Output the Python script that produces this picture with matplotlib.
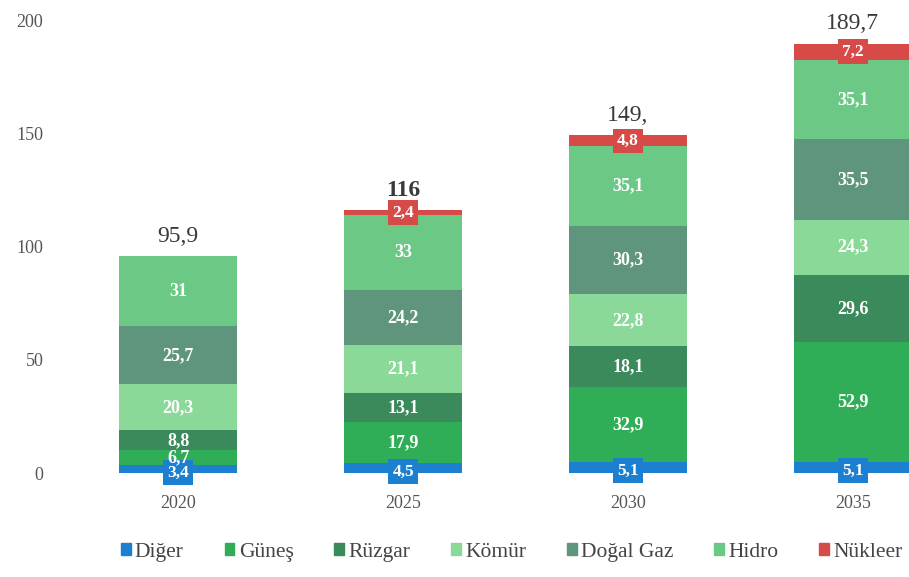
import numpy as np
import matplotlib
matplotlib.use("Agg")
import matplotlib.pyplot as plt
from matplotlib.patches import Patch

plt.rcParams['font.family'] = ['Liberation Serif', 'DejaVu Serif']

# data
years = ['2020', '2025', '2030', '2035']
series = ['Diğer', 'Güneş', 'Rüzgar', 'Kömür', 'Doğal Gaz', 'Hidro', 'Nükleer']
diger = [3.4, 4.5, 5.1, 5.1]
gunes = [6.7, 17.9, 32.9, 52.9]
ruzgar = [8.8, 13.1, 18.1, 29.6]
komur = [20.3, 21.1, 22.8, 24.3]
dogalgaz = [25.7, 24.2, 30.3, 35.5]
hidro = [31, 33, 35.1, 35.1]
nukleer = [0, 2.4, 4.8, 7.2]
totals = ['95,9', '116', '149,', '189,7']

colors = ['#1c7fd0', '#2fae57', '#3b8a5c', '#8ad998', '#5e957c', '#6cc985', '#d64b48']
values = [diger, gunes, ruzgar, komur, dogalgaz, hidro, nukleer]
boxed = {'Diğer', 'Nükleer'}

fig = plt.figure(figsize=(9.09, 5.77), dpi=100)
ax = fig.add_axes([0.06, 0.18, 0.94, 0.785])

x = np.arange(len(years))
width = 0.525
bottom = np.zeros(len(years))
for name, vals, col in zip(series, values, colors):
    vals = np.array(vals, dtype=float)
    ax.bar(x, vals, width, bottom=bottom, color=col, label=name)
    for i, v in enumerate(vals):
        if v <= 0:
            continue
        lab = ('%g' % v).replace('.', ',')
        y = bottom[i] + v / 2
        if name in boxed:
            if name == 'Diğer':
                y = bottom[i] + v / 2 - 1.5
            ax.text(x[i], y, lab, ha='center', va='center', color='white',
                    fontsize=12.5, fontweight='bold', clip_on=False,
                    bbox=dict(boxstyle='square,pad=0.25', fc=col, ec='none'))
        else:
            ax.text(x[i], y, lab, ha='center', va='center', color='white',
                    fontsize=13, fontweight='bold')
    bottom += vals

for i, t in enumerate(totals):
    ax.text(x[i], bottom[i] + 4, t, ha='center', va='bottom', color='#3a3a3a',
            fontsize=17, fontweight='bold' if t == '116' else 'normal')

ax.set_xlim(-0.55, 3.25)
ax.set_ylim(0, 200)
ax.set_yticks([0, 50, 100, 150, 200])
ax.set_xticks(x)
ax.set_xticklabels(years)
ax.tick_params(length=0, labelsize=13, colors='#555555', pad=8)
ax.tick_params(axis='x', pad=16)
for s in ax.spines.values():
    s.set_visible(False)

handles = [Patch(color=c, label=n) for n, c in zip(series, colors)]
fig.legend(handles=handles, loc='center', bbox_to_anchor=(0.563, 0.043), ncol=7,
           frameon=False, prop={'family': 'Liberation Serif', 'size': 15.5},
           handlelength=0.45, handleheight=0.45,
           handletextpad=0.2, columnspacing=1.9, labelcolor='#444444')

fig.savefig('out.png', dpi=100)
